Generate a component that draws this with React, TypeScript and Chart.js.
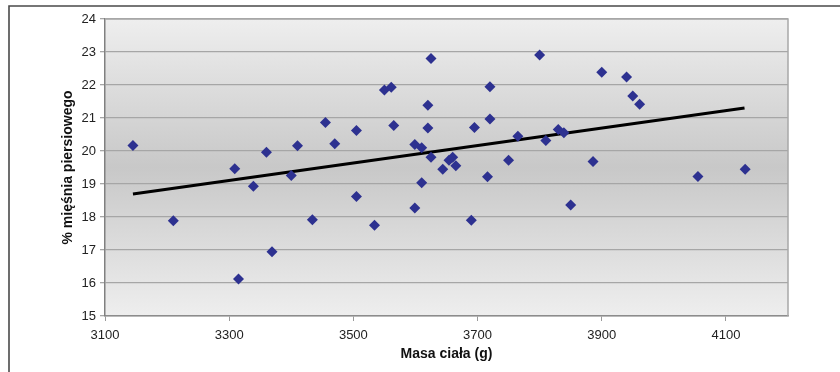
import React, { useEffect, useRef } from "react";
import { Chart, registerables } from "chart.js";

Chart.register(...registerables);

const massG = [
  3145, 3210, 3309, 3315, 3339, 3360, 3369, 3400, 3410, 3434,
  3455, 3470, 3505, 3505, 3534, 3550, 3561, 3565, 3599, 3610,
  3599, 3610, 3625, 3620, 3620, 3625, 3644, 3654, 3660, 3665,
  3690, 3695, 3720, 3720, 3716, 3750, 3765, 3800, 3810, 3830,
  3839, 3850, 3886, 3900, 3940, 3950, 3961, 4055, 4131,
];
const musclePct = [
  20.17, 17.89, 19.46, 16.12, 18.93, 19.96, 16.95, 19.26, 20.16, 17.92,
  20.86, 20.22, 20.62, 18.62, 17.75, 21.85, 21.93, 20.77, 20.2, 20.1,
  18.27, 19.04, 22.8, 21.39, 20.7, 19.81, 19.45, 19.72, 19.81, 19.55,
  17.9, 20.71, 21.95, 20.97, 19.22, 19.72, 20.45, 22.91, 20.32, 20.65,
  20.55, 18.36, 19.68, 22.39, 22.24, 21.67, 21.42, 19.23, 19.45,
];
const trendMass = [3145, 4130];
const trendPct = [18.7, 21.3];
const xTickValues = [3100, 3300, 3500, 3700, 3900, 4100];
const xMin = 3100;
const xMax = 4200;
const yMin = 15;
const yMax = 24;
const xTitle = "Masa ciała (g)";
const yTitle = "% mięśnia piersiowego";

const FONT = "'Liberation Sans', Arial, sans-serif";

const bgPlugin = {
  id: "bgPlugin",
  beforeDraw(chart: any) {
    const { ctx, chartArea: a } = chart;
    ctx.save();
    ctx.fillStyle = "#ffffff";
    ctx.fillRect(0, 0, chart.width, chart.height);
    const g = ctx.createLinearGradient(0, a.top, 0, a.bottom);
    g.addColorStop(0, "#eeeeee");
    g.addColorStop(0.5, "#c8c8c8");
    g.addColorStop(1, "#eeeeee");
    ctx.fillStyle = g;
    ctx.fillRect(a.left, a.top, a.right - a.left, a.bottom - a.top);
    ctx.strokeStyle = "#4a4a4a";
    ctx.lineWidth = 1.6;
    ctx.beginPath();
    ctx.moveTo(9, chart.height);
    ctx.lineTo(9, 6);
    ctx.lineTo(chart.width, 6);
    ctx.stroke();
    ctx.restore();
  },
  beforeDatasetsDraw(chart: any) {
    const { ctx, chartArea: a } = chart;
    ctx.save();
    ctx.strokeStyle = "#a8a8a8";
    ctx.lineWidth = 1.5;
    ctx.beginPath();
    ctx.moveTo(a.left, a.top);
    ctx.lineTo(a.right, a.top);
    ctx.lineTo(a.right, a.bottom);
    ctx.stroke();
    ctx.restore();
  },
};

export default function App() {
  const ref = useRef<HTMLCanvasElement | null>(null);

  useEffect(() => {
    if (!ref.current) return;
    const chart = new Chart(ref.current, {
      type: "scatter",
      data: {
        datasets: [
          {
            label: "points",
            data: massG.map((x, i) => ({ x, y: musclePct[i] })),
            pointStyle: "rectRot",
            pointRadius: 5.5,
            backgroundColor: "#2d3190",
            borderColor: "#2d3190",
            borderWidth: 0,
          },
          {
            label: "trend",
            data: trendMass.map((x, i) => ({ x, y: trendPct[i] })),
            showLine: true,
            pointRadius: 0,
            borderColor: "#000000",
            borderWidth: 3,
          },
        ],
      },
      options: {
        animation: false,
        responsive: false,
        layout: { padding: { left: 0, top: 19, right: 52, bottom: 0 } },
        plugins: {
          legend: { display: false },
          tooltip: { enabled: false },
        },
        scales: {
          x: {
            type: "linear",
            min: xMin,
            max: xMax,
            afterBuildTicks: (scale: any) => {
              scale.ticks = xTickValues.map((v) => ({ value: v }));
            },
            afterFit: (scale: any) => {
              scale.height = 56;
            },
            grid: {
              drawOnChartArea: false,
              drawTicks: true,
              tickLength: 5,
              color: "#9a9a9a",
            },
            border: { color: "#8c8c8c", width: 1.5 },
            ticks: {
              padding: 7,
              color: "#222",
              font: { family: FONT, size: 13 },
              maxRotation: 0,
              callback: (v: any) => String(v),
            },
            title: {
              display: true,
              text: xTitle,
              color: "#111",
              font: { family: FONT, size: 14, weight: "bold" },
              padding: { top: 0, bottom: 9 },
            },
          },
          y: {
            type: "linear",
            min: yMin,
            max: yMax,
            afterFit: (scale: any) => {
              scale.width = 105;
            },
            ticks: {
              stepSize: 1,
              padding: 4,
              color: "#222",
              font: { family: FONT, size: 13 },
              callback: (v: any) => String(v),
            },
            grid: {
              color: "#a6a6a6",
              lineWidth: 1.3,
              tickLength: 5,
            },
            border: { color: "#808080", width: 1.5 },
            title: {
              display: true,
              text: yTitle,
              color: "#111",
              font: { family: FONT, size: 14, weight: "bold" },
              padding: { top: 60, bottom: 0 },
            },
          },
        },
      },
      plugins: [bgPlugin],
    } as any);
    return () => chart.destroy();
  }, []);

  return (
    <div style={{ position: "absolute", left: 0, top: 0, width: 840, height: 372 }}>
      <canvas ref={ref} width={840} height={372} />
    </div>
  );
}
